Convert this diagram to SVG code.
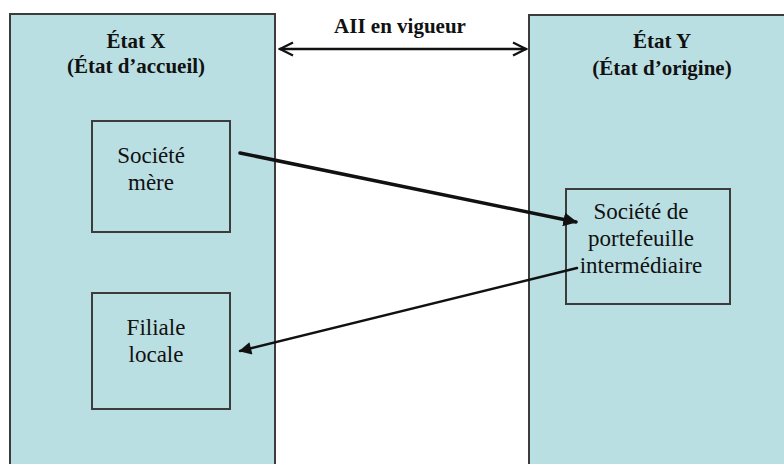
<svg xmlns="http://www.w3.org/2000/svg" width="784" height="464" viewBox="0 0 784 464">
<style>
.state{fill:#badfe3;stroke:#3c3c3c;stroke-width:2}
.box{fill:#badfe3;stroke:#3c3c3c;stroke-width:2}
.title{font-family:'Liberation Serif','Times New Roman',Times,serif;font-weight:bold;font-size:21px;fill:#111;text-anchor:middle}
.lbl{font-family:'Liberation Serif','Times New Roman',Times,serif;font-size:23px;fill:#111;text-anchor:middle}
.conn{fill:none;stroke:#111;stroke-linecap:round}
</style>
<defs>
<marker id="open" viewBox="0 0 10 10" refX="9" refY="5" markerWidth="6.5" markerHeight="6.5" orient="auto-start-reverse" markerUnits="strokeWidth">
<path d="M1,1 L9,5 L1,9" fill="none" stroke="#111" stroke-width="1.4"/>
</marker>
<marker id="solid" viewBox="0 0 10 10" refX="9" refY="5" markerWidth="4" markerHeight="4" orient="auto" markerUnits="strokeWidth">
<path d="M0,0 L10,5 L0,10 z" fill="#111"/>
</marker>
<marker id="solid2" viewBox="0 0 10 10" refX="9" refY="5" markerWidth="6" markerHeight="5" orient="auto" markerUnits="strokeWidth">
<path d="M0,0 L10,5 L0,10 z" fill="#111"/>
</marker>
</defs>
<rect width="784" height="464" fill="#fff"/>
<g id="etat-x">
<rect class="state" x="10" y="14" width="265" height="460"/>
<text class="title" x="136" y="48">État X</text>
<text class="title" x="136" y="73">(État d’accueil)</text>
</g>
<g id="etat-y">
<rect class="state" x="529" y="15" width="265" height="460"/>
<text class="title" x="662" y="48">État Y</text>
<text class="title" x="662" y="75">(État d’origine)</text>
</g>
<g id="societe-mere">
<rect class="box" x="92" y="121" width="138" height="111"/>
<text class="lbl" x="151" y="163">Société</text>
<text class="lbl" x="151" y="190">mère</text>
</g>
<g id="filiale-locale">
<rect class="box" x="92" y="293" width="138" height="116"/>
<text class="lbl" x="156" y="335">Filiale</text>
<text class="lbl" x="156" y="362">locale</text>
</g>
<g id="societe-portefeuille">
<rect class="box" x="566" y="189" width="164" height="115"/>
<text class="lbl" x="641" y="219">Société de</text>
<text class="lbl" x="641" y="246">portefeuille</text>
<text class="lbl" x="641" y="273">intermédiaire</text>
</g>
<g id="connectors">
<line class="conn" x1="280" y1="49" x2="526" y2="49" stroke-width="2.5" marker-start="url(#open)" marker-end="url(#open)"/>
<text class="title" x="400" y="33">AII en vigueur</text>
<line class="conn" x1="240" y1="153" x2="576" y2="222" stroke-width="3.5" marker-end="url(#solid)"/>
<line class="conn" x1="577" y1="268" x2="240" y2="351" stroke-width="2.5" marker-end="url(#solid2)"/>
</g>
</svg>
